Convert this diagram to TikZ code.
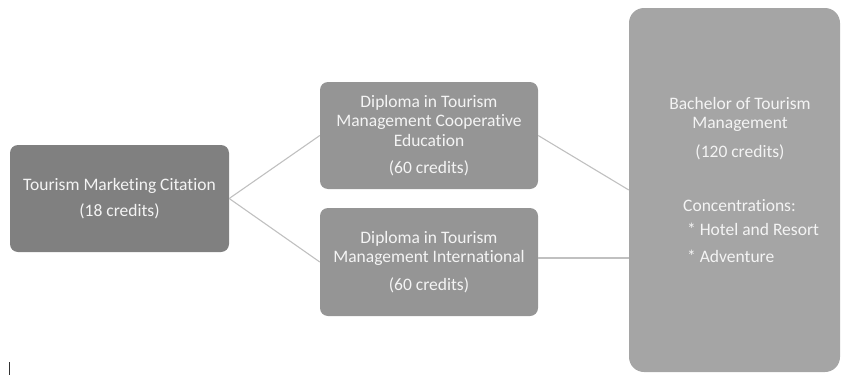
\documentclass[tikz,border=0pt]{standalone}
\usepackage{fontspec}
\setmainfont{Carlito}[Ligatures={NoCommon,NoContextual}]
\definecolor{boxA}{HTML}{808080}
\definecolor{boxB}{HTML}{959595}
\definecolor{boxC}{HTML}{A5A5A5}
\definecolor{linkC}{HTML}{C0C0C0}
\definecolor{txtC}{HTML}{F4F4F4}
\begin{document}
\begin{tikzpicture}[x=1pt,y=-1pt,
  card/.style={rounded corners=8pt, inner sep=0pt, align=center, text=txtC,
    font=\fontsize{17.5}{19.5}\selectfont},
  link/.style={draw=linkC, line width=1.1pt}]
\useasboundingbox (0,0) rectangle (841,375);
\node[card, fill=boxA, minimum width=219pt, minimum height=107pt] (tmc) at (119.5,198.5)
  {Tourism Marketing Citation\\[7pt](18 credits)};
\node[card, fill=boxB, minimum width=218pt, minimum height=107pt] (dco) at (429,135.5)
  {Diploma in Tourism\\Management Cooperative\\Education\\[8pt](60 credits)};
\node[card, fill=boxB, minimum width=218pt, minimum height=108pt] (din) at (429,262)
  {Diploma in Tourism\\Management International\\[8pt](60 credits)};
\node[card, fill=boxC, rounded corners=15pt, minimum width=211pt, minimum height=364pt] (btm) at (734.5,190) {};
\node[text=txtC, font=\fontsize{17.5}{19.5}\selectfont, align=center, inner sep=0pt] (btt) at (740,128.5)
  {Bachelor of Tourism\\Management\\[9pt](120 credits)};
\node[text=txtC, font=\fontsize{17.5}{19.5}\selectfont, align=left, inner sep=0pt, anchor=north west] (btc) at (683,199)
  {Concentrations:\\[5pt]\ * Hotel and Resort\\[7.5pt]\ * Adventure};
\draw[link] (tmc.east) -- (dco.west);
\draw[link] (tmc.east) -- (din.west);
\draw[link] (dco.east) -- (btm.west);
\draw[link] (din.east) ++(0,-4) coordinate (dinr) -- (dinr -| btm.west);
\coordinate (cur1) at (9,362);
\coordinate (cur2) at (9,375);
\draw[black!80, line width=0.8pt] (cur1) -- (cur2);
\end{tikzpicture}
\end{document}
